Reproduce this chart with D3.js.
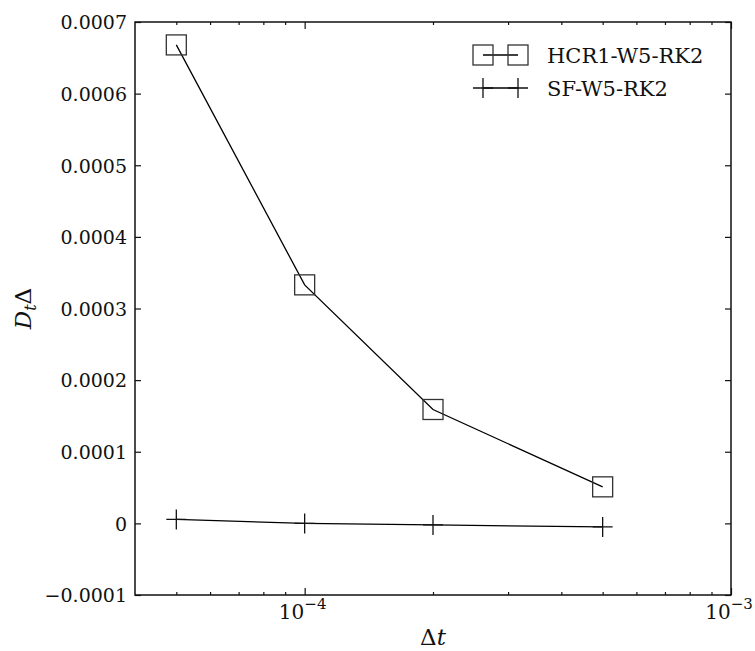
<!DOCTYPE html>
<html>
<head>
<meta charset="utf-8">
<script src="https://cdn.jsdelivr.net/npm/d3@7"></script>
<style>
  body { margin: 0; background: #fff; }
</style>
</head>
<body>
<svg id="chart" width="755" height="651"></svg>
<script>
// data
const dt = [5e-5, 1e-4, 2e-4, 5e-4];
const hcrVals = [0.000668, 0.000333, 0.000159, 0.000051];
const sfVals = [0.0000055, 0.0, -0.0000022, -0.000005];
const seriesNames = ["HCR1-W5-RK2", "SF-W5-RK2"];
const yTicks = [-0.0001, 0, 0.0001, 0.0002, 0.0003, 0.0004, 0.0005, 0.0006, 0.0007];
const xMajor = [1e-4, 1e-3];
const xMinor = [5e-5, 6e-5, 7e-5, 8e-5, 9e-5, 2e-4, 3e-4, 4e-4, 5e-4, 6e-4, 7e-4, 8e-4, 9e-4];

const FONT = "'DejaVu Serif', serif";

const svg = d3.select("#chart");
const mLeft = 135, mTop = 22, mRight = 731, mBottom = 595;

const x = d3.scaleLog().domain([4e-5, 1e-3]).range([mLeft, mRight]);
const y = d3.scaleLinear().domain([-0.0001, 0.0007]).range([mBottom, mTop]);

const fmtY = (d) => (d === 0 ? "0" : (d < 0 ? "\u2212" : "") + Math.abs(d).toFixed(4));

// y axes (ticks inward on both sides)
svg.append("g")
  .attr("transform", `translate(${mLeft},0)`)
  .call(d3.axisLeft(y).tickValues(yTicks).tickFormat(fmtY).tickSizeInner(-6).tickSizeOuter(0).tickPadding(8))
  .call((g) => g.select(".domain").remove())
  .call((g) => g.selectAll("text").attr("font-family", FONT).attr("font-size", 19).attr("fill", "#111").attr("dy", "0.36em"));

svg.append("g")
  .attr("transform", `translate(${mRight},0)`)
  .call(d3.axisRight(y).tickValues(yTicks).tickFormat("").tickSizeInner(-6).tickSizeOuter(0))
  .call((g) => g.select(".domain").remove());

// x axes, major + minor, bottom and top
svg.append("g")
  .attr("transform", `translate(0,${mBottom})`)
  .call(d3.axisBottom(x).tickValues(xMajor).tickFormat("").tickSizeInner(-7).tickSizeOuter(0))
  .call((g) => g.select(".domain").remove());
svg.append("g")
  .attr("transform", `translate(0,${mBottom})`)
  .call(d3.axisBottom(x).tickValues(xMinor).tickFormat("").tickSizeInner(-3).tickSizeOuter(0))
  .call((g) => g.select(".domain").remove());
svg.append("g")
  .attr("transform", `translate(0,${mTop})`)
  .call(d3.axisTop(x).tickValues(xMajor).tickFormat("").tickSizeInner(-7).tickSizeOuter(0))
  .call((g) => g.select(".domain").remove());
svg.append("g")
  .attr("transform", `translate(0,${mTop})`)
  .call(d3.axisTop(x).tickValues(xMinor).tickFormat("").tickSizeInner(-3).tickSizeOuter(0))
  .call((g) => g.select(".domain").remove());

svg.selectAll(".tick line").attr("stroke", "#111").attr("stroke-width", 1.2);

// x tick labels as 10^n
const xLabels = svg.append("g");
xMajor.forEach((v) => {
  const t = xLabels.append("text")
    .attr("x", x(v) - 2)
    .attr("y", mBottom + 24)
    .attr("text-anchor", "middle")
    .attr("font-family", FONT)
    .attr("fill", "#111")
    .attr("font-size", 20);
  t.append("tspan").text("10");
  t.append("tspan").attr("font-size", 15).attr("dy", -10).text("\u2212" + Math.round(-Math.log10(v)));
});

// frame
svg.append("rect")
  .attr("x", mLeft).attr("y", mTop)
  .attr("width", mRight - mLeft).attr("height", mBottom - mTop)
  .attr("fill", "none").attr("stroke", "#111").attr("stroke-width", 1.5);

// lines
const line = d3.line().x((d) => x(d[0])).y((d) => y(d[1]));
const hcr = dt.map((d, i) => [d, hcrVals[i]]);
const sf = dt.map((d, i) => [d, sfVals[i]]);

svg.append("path").datum(hcr).attr("d", line)
  .attr("fill", "none").attr("stroke", "#000").attr("stroke-width", 1.3);
svg.append("path").datum(sf).attr("d", line)
  .attr("fill", "none").attr("stroke", "#000").attr("stroke-width", 1.3);

function square(g, cx, cy) {
  g.append("rect")
    .attr("x", cx - 10).attr("y", cy - 10)
    .attr("width", 20).attr("height", 20)
    .attr("fill", "none").attr("stroke", "#333").attr("stroke-width", 1.3);
}
function plus(g, cx, cy) {
  g.append("path")
    .attr("d", `M${cx - 10},${cy}H${cx + 10}M${cx},${cy - 10}V${cy + 10}`)
    .attr("fill", "none").attr("stroke", "#111").attr("stroke-width", 1.3);
}

const marks = svg.append("g");
hcr.forEach((d) => square(marks, x(d[0]), y(d[1])));
sf.forEach((d) => plus(marks, x(d[0]), y(d[1])));

// legend
const leg = svg.append("g");
const legRows = [55, 88];
const legX0 = 483, legX1 = 518;
legRows.forEach((ly, i) => {
  leg.append("line")
    .attr("x1", legX0).attr("x2", legX1).attr("y1", ly).attr("y2", ly)
    .attr("stroke", "#000").attr("stroke-width", 1.3);
  if (i === 0) { square(leg, legX0, ly); square(leg, legX1, ly); }
  else { plus(leg, legX0, ly); plus(leg, legX1, ly); }
  leg.append("text")
    .attr("x", 547).attr("y", ly + 8)
    .attr("font-family", FONT)
    .attr("fill", "#111")
    .attr("font-size", 21)
    .text(seriesNames[i]);
});

// axis titles
const xt = svg.append("text")
  .attr("x", (mLeft + mRight) / 2)
  .attr("y", 645)
  .attr("text-anchor", "middle")
  .attr("font-family", FONT)
  .attr("fill", "#111")
  .attr("font-size", 23);
xt.append("tspan").text("\u0394");
xt.append("tspan").attr("font-style", "italic").text("t");

const yt = svg.append("text")
  .attr("transform", `translate(31,${(mTop + mBottom) / 2}) rotate(-90)`)
  .attr("text-anchor", "middle")
  .attr("font-family", FONT)
  .attr("fill", "#111")
  .attr("font-size", 23);
yt.append("tspan").attr("font-style", "italic").text("D");
yt.append("tspan").attr("font-style", "italic").attr("font-size", 16).attr("dy", 5).text("t");
yt.append("tspan").attr("dy", -5).text("\u0394");
</script>
</body>
</html>
